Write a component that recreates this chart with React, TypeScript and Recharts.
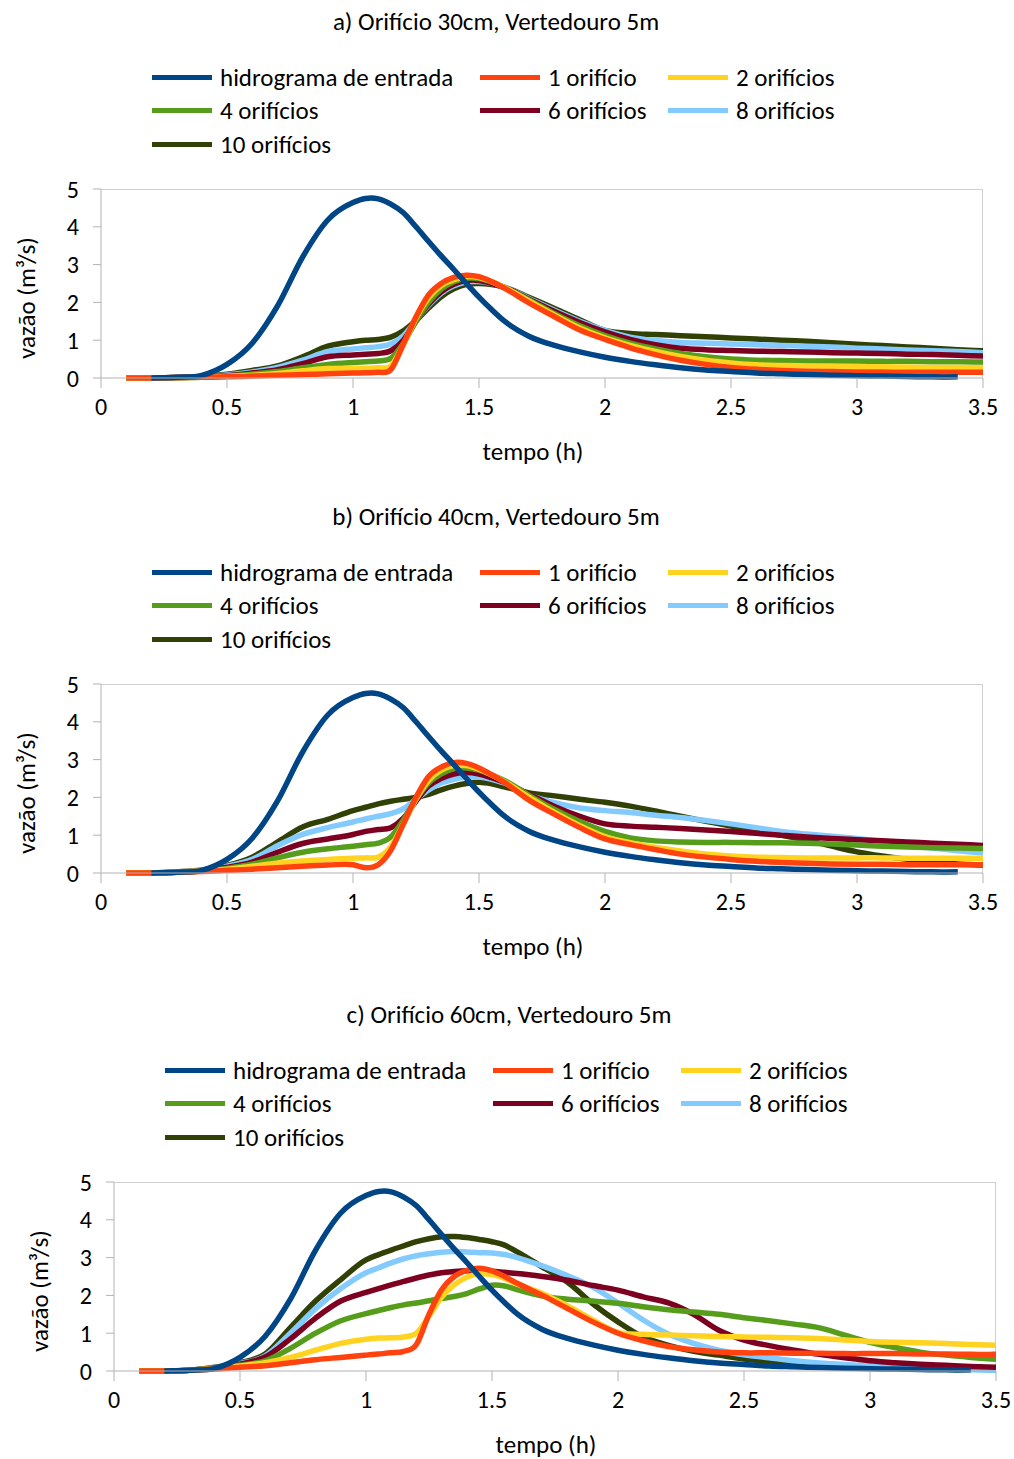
import React from 'react';
import { LineChart, Line, XAxis, YAxis } from 'recharts';

const FONT = 'Carlito, Lato, "Open Sans", sans-serif';

// time grid (h)
const times = [0.1, 0.2, 0.3, 0.4, 0.5, 0.6, 0.7, 0.8, 0.9, 1.0,
  1.05, 1.1, 1.15, 1.2, 1.25, 1.3, 1.35, 1.4, 1.45, 1.5, 1.55, 1.6,
  1.7, 1.8, 1.9, 2.0, 2.1, 2.2, 2.3, 2.4, 2.5, 2.6, 2.7, 2.8, 2.9, 3.0, 3.1, 3.2, 3.3, 3.4, 3.5];

// inflow hydrograph (same in all panels)
const inflow = [null, 0, 0.02, 0.07, 0.36, 0.92, 1.9, 3.2, 4.18, 4.64,
  4.75, 4.74, 4.6, 4.37, 4.0, 3.61, 3.23, 2.87, 2.5, 2.14, 1.81, 1.51,
  1.1, 0.86, 0.69, 0.55, 0.44, 0.35, 0.27, 0.21, 0.17, 0.13, 0.11, 0.09, 0.07, 0.06, 0.05, 0.04, 0.03, 0.03, null];

// a) orifice 30 cm
const a1 = [0, 0, 0.01, 0.02, 0.03, 0.05, 0.07, 0.09, 0.11, 0.13,
  0.14, 0.15, 0.22, 0.9, 1.62, 2.2, 2.5, 2.66, 2.72, 2.68, 2.55, 2.38,
  1.98, 1.62, 1.27, 1.02, 0.8, 0.62, 0.47, 0.36, 0.28, 0.23, 0.2, 0.18, 0.17, 0.16, 0.16, 0.15, 0.15, 0.15, 0.15];
const a2 = [0, 0, 0.01, 0.02, 0.04, 0.07, 0.12, 0.19, 0.25, 0.26,
  0.26, 0.27, 0.32, 0.88, 1.58, 2.12, 2.44, 2.6, 2.68, 2.66, 2.55, 2.4,
  2.03, 1.66, 1.32, 1.06, 0.86, 0.7, 0.57, 0.47, 0.4, 0.35, 0.33, 0.32, 0.31, 0.3, 0.3, 0.29, 0.28, 0.28, 0.27];
const a4 = [0, 0, 0.01, 0.02, 0.05, 0.1, 0.17, 0.27, 0.36, 0.41,
  0.43, 0.45, 0.52, 0.92, 1.5, 2.0, 2.35, 2.55, 2.64, 2.63, 2.54, 2.4,
  2.06, 1.7, 1.38, 1.12, 0.92, 0.77, 0.65, 0.56, 0.5, 0.47, 0.46, 0.45, 0.45, 0.45, 0.44, 0.44, 0.43, 0.43, 0.42];
const a6 = [0, 0, 0.01, 0.03, 0.06, 0.13, 0.22, 0.38, 0.56, 0.61,
  0.63, 0.65, 0.72, 1.0, 1.5, 1.95, 2.28, 2.48, 2.58, 2.58, 2.5, 2.4,
  2.08, 1.76, 1.47, 1.22, 1.02, 0.88, 0.79, 0.75, 0.73, 0.71, 0.7, 0.69, 0.67, 0.66, 0.65, 0.63, 0.62, 0.6, 0.58];
const a8 = [0, 0, 0.01, 0.03, 0.08, 0.16, 0.28, 0.47, 0.7, 0.77,
  0.8, 0.83, 0.9, 1.12, 1.52, 1.92, 2.24, 2.44, 2.54, 2.55, 2.5, 2.41,
  2.1, 1.79, 1.5, 1.26, 1.08, 0.99, 0.94, 0.92, 0.9, 0.88, 0.86, 0.84, 0.82, 0.79, 0.77, 0.74, 0.72, 0.7, 0.67];
const a10 = [0, 0, 0.01, 0.04, 0.1, 0.2, 0.32, 0.56, 0.84, 0.96,
  1.0, 1.02, 1.08, 1.25, 1.52, 1.85, 2.15, 2.36, 2.48, 2.5, 2.47, 2.4,
  2.13, 1.84, 1.54, 1.26, 1.18, 1.15, 1.12, 1.09, 1.06, 1.03, 1.0, 0.97, 0.93, 0.89, 0.86, 0.82, 0.79, 0.75, 0.72];

// b) orifice 40 cm
const b1 = [0, 0, 0.02, 0.04, 0.07, 0.1, 0.14, 0.18, 0.21, 0.22,
  0.14, 0.22, 0.6, 1.3, 2.0, 2.55, 2.8, 2.92, 2.9, 2.78, 2.6, 2.4,
  1.92, 1.55, 1.2, 0.9, 0.75, 0.62, 0.5, 0.42, 0.36, 0.31, 0.28, 0.26, 0.24, 0.23, 0.23, 0.22, 0.22, 0.22, 0.22];
const b2 = [0, 0, 0.02, 0.05, 0.1, 0.18, 0.26, 0.32, 0.36, 0.39,
  0.4, 0.42, 0.7, 1.3, 1.95, 2.45, 2.72, 2.84, 2.84, 2.75, 2.6, 2.42,
  2.0, 1.6, 1.25, 0.96, 0.8, 0.68, 0.58, 0.5, 0.45, 0.42, 0.41, 0.4, 0.4, 0.4, 0.4, 0.39, 0.39, 0.39, 0.39];
const b4 = [0, 0, 0.02, 0.05, 0.12, 0.23, 0.4, 0.55, 0.64, 0.71,
  0.75, 0.79, 0.95, 1.4, 1.95, 2.38, 2.62, 2.76, 2.78, 2.72, 2.6, 2.45,
  2.05, 1.68, 1.36, 1.1, 0.93, 0.85, 0.82, 0.81, 0.81, 0.8, 0.8, 0.79, 0.77, 0.74, 0.71, 0.69, 0.67, 0.66, 0.65];
const b6 = [0, 0, 0.02, 0.06, 0.15, 0.29, 0.55, 0.78, 0.9, 1.02,
  1.1, 1.15, 1.2, 1.45, 1.9, 2.3, 2.5, 2.62, 2.66, 2.62, 2.52, 2.4,
  2.08, 1.76, 1.5, 1.3, 1.24, 1.21, 1.18, 1.14, 1.1, 1.05, 1.0, 0.95, 0.91, 0.88, 0.85, 0.82, 0.79, 0.76, 0.73];
const b8 = [0, 0, 0.02, 0.07, 0.18, 0.36, 0.72, 1.02, 1.2, 1.35,
  1.43, 1.5, 1.57, 1.7, 1.95, 2.2, 2.38, 2.48, 2.54, 2.54, 2.48, 2.38,
  2.06, 1.86, 1.72, 1.65, 1.6, 1.53, 1.47, 1.39, 1.3, 1.2, 1.1, 1.03, 0.97, 0.91, 0.83, 0.74, 0.66, 0.59, 0.53];
const b10 = [0, 0, 0.03, 0.08, 0.2, 0.42, 0.82, 1.22, 1.42, 1.65,
  1.74, 1.83, 1.9, 1.95, 2.0, 2.08, 2.2, 2.3, 2.37, 2.4, 2.36, 2.28,
  2.12, 2.04, 1.95, 1.87, 1.77, 1.64, 1.5, 1.37, 1.24, 1.12, 1.0, 0.87, 0.71, 0.56, 0.45, 0.36, 0.29, 0.24, 0.21];

// c) orifice 60 cm
const c1 = [0, 0, 0.02, 0.05, 0.1, 0.14, 0.22, 0.3, 0.36, 0.42,
  0.45, 0.48, 0.52, 0.7, 1.5, 2.15, 2.5, 2.66, 2.72, 2.65, 2.5, 2.32,
  2.0, 1.65, 1.3, 1.0, 0.8, 0.65, 0.56, 0.5, 0.48, 0.48, 0.47, 0.47, 0.46, 0.46, 0.46, 0.45, 0.45, 0.44, 0.44];
const c2 = [0, 0, 0.02, 0.06, 0.13, 0.22, 0.36, 0.55, 0.73, 0.84,
  0.87, 0.88, 0.9, 1.0, 1.45, 1.95, 2.28, 2.48, 2.57, 2.55, 2.45, 2.3,
  2.05, 1.72, 1.35, 1.02, 0.97, 0.95, 0.93, 0.91, 0.9, 0.89, 0.88, 0.86, 0.82, 0.78, 0.76, 0.75, 0.73, 0.7, 0.68];
const c4 = [0, 0, 0.02, 0.07, 0.15, 0.27, 0.6, 1.0, 1.33, 1.52,
  1.6, 1.68, 1.75, 1.8, 1.86, 1.92, 1.97, 2.05, 2.17, 2.27, 2.25, 2.15,
  1.98, 1.9, 1.85, 1.79, 1.7, 1.62, 1.56, 1.5, 1.41, 1.33, 1.24, 1.14, 0.95, 0.76, 0.62, 0.5, 0.42, 0.36, 0.31];
const c6 = [0, 0, 0.02, 0.08, 0.18, 0.37, 0.85, 1.4, 1.85, 2.08,
  2.18, 2.28, 2.37, 2.46, 2.54, 2.6, 2.63, 2.65, 2.65, 2.64, 2.61, 2.58,
  2.5, 2.4, 2.26, 2.14, 1.96, 1.8, 1.5, 1.08, 0.82, 0.67, 0.55, 0.44, 0.35, 0.27, 0.22, 0.18, 0.15, 0.12, 0.1];
const c8 = [0, 0, 0.02, 0.09, 0.2, 0.4, 1.0, 1.65, 2.18, 2.6,
  2.73, 2.86, 2.97, 3.05, 3.1, 3.14, 3.16, 3.15, 3.13, 3.12, 3.08, 3.0,
  2.78, 2.52, 2.22, 1.8, 1.35, 0.98, 0.73, 0.55, 0.43, 0.35, 0.27, 0.21, 0.17, 0.14, 0.1, 0.07, 0.05, 0.03, 0.02];
const c10 = [0, 0, 0.02, 0.1, 0.22, 0.45, 1.15, 1.85, 2.42, 2.94,
  3.08, 3.2, 3.31, 3.42, 3.5, 3.55, 3.56, 3.53, 3.48, 3.42, 3.33, 3.15,
  2.75, 2.35, 1.78, 1.3, 0.9, 0.68, 0.52, 0.42, 0.32, 0.25, 0.2, 0.16, 0.13, 0.11, 0.09, 0.07, 0.06, 0.05, 0.05];

const seriesNames = ['hidrograma de entrada', '1 orifício', '2 orifícios', '4 orifícios', '6 orifícios', '8 orifícios', '10 orifícios'];
const seriesColors = ['#004586', '#ff420e', '#ffd320', '#579d1c', '#7e0021', '#83caff', '#314004'];
const xTicks = [0, 0.5, 1, 1.5, 2, 2.5, 3, 3.5];
const yTicks = [0, 1, 2, 3, 4, 5];
const titles = ['a) Orifício 30cm, Vertedouro 5m', 'b) Orifício 40cm, Vertedouro 5m', 'c) Orifício 60cm, Vertedouro 5m'];

const buildRows = (cols: (number | null)[][]) =>
  times.map((t, i) => {
    const r: any = { t };
    cols.forEach((c, k) => { r['s' + k] = c[i]; });
    return r;
  });

const panelData = [
  buildRows([inflow, a1, a2, a4, a6, a8, a10]),
  buildRows([inflow, b1, b2, b4, b6, b8, b10]),
  buildRows([inflow, c1, c2, c4, c6, c8, c10]),
];

// x-aware cubic Hermite spline (smooth, handles uneven spacing)
const smoothX = (context: any) => {
  let xs: number[] = [];
  let ys: number[] = [];
  return {
    areaStart() {},
    areaEnd() {},
    lineStart() { xs = []; ys = []; },
    lineEnd() {
      const n = xs.length;
      if (n === 0) return;
      context.moveTo(xs[0], ys[0]);
      if (n === 1) return;
      if (n === 2) { context.lineTo(xs[1], ys[1]); return; }
      const m: number[] = new Array(n);
      for (let i = 0; i < n; i++) {
        if (i === 0) m[i] = (ys[1] - ys[0]) / (xs[1] - xs[0]);
        else if (i === n - 1) m[i] = (ys[n - 1] - ys[n - 2]) / (xs[n - 1] - xs[n - 2]);
        else {
          const h0 = xs[i] - xs[i - 1];
          const h1 = xs[i + 1] - xs[i];
          const s0 = (ys[i] - ys[i - 1]) / h0;
          const s1 = (ys[i + 1] - ys[i]) / h1;
          m[i] = (s0 * h1 + s1 * h0) / (h0 + h1);
        }
      }
      for (let i = 0; i < n - 1; i++) {
        const h = xs[i + 1] - xs[i];
        context.bezierCurveTo(xs[i] + h / 3, ys[i] + (m[i] * h) / 3, xs[i + 1] - h / 3, ys[i + 1] - (m[i + 1] * h) / 3, xs[i + 1], ys[i + 1]);
      }
    },
    point(x: number, y: number) { xs.push(+x); ys.push(+y); },
  };
};

const AXIS = '#b3b3b3';
const FS = 25;
const TFS = 24;

const Panel = ({ ox, oy, title, data }: { ox: number; oy: number; title: string; data: any[] }) => {
  const plotLeft = 101 + ox;
  const plotTop = 189 + oy;
  const plotW = 882;
  const plotH = 189;
  const legCols = [152, 480, 668];
  const legRows = [77, 110, 144];
  const order = [6, 5, 4, 3, 2, 1, 0];
  return (
    <>
      <div style={{ position: 'absolute', left: 96 + ox, top: oy + 6, width: 800, textAlign: 'center', fontSize: FS, lineHeight: '32px', fontFamily: FONT }}>{title}</div>
      {seriesNames.map((n, i) => {
        const col = i === 0 ? 0 : (i - 1) % 3 === 0 ? 1 : (i - 1) % 3 === 1 ? 2 : 0;
        const row = Math.floor(i / 3);
        const x = legCols[col] + ox;
        const y = legRows[row] + oy;
        return (
          <div key={n} style={{ position: 'absolute', left: x, top: y - 16, height: 32, display: 'flex', alignItems: 'center', fontFamily: FONT, fontSize: FS, whiteSpace: 'nowrap' }}>
            <span style={{ display: 'inline-block', width: 60, height: 5, background: seriesColors[i], marginRight: 8 }} />
            <span>{n}</span>
          </div>
        );
      })}
      <div style={{ position: 'absolute', left: plotLeft, top: plotTop, width: plotW, height: plotH, boxSizing: 'border-box', borderTop: '1px solid #d0d0d0', borderRight: '1px solid #d0d0d0' }} />
      <div style={{ position: 'absolute', left: 0, top: oy, width: 1014 }}>
        <LineChart width={1014} height={480} data={data} margin={{ top: 189, right: 1014 - 983 - ox, left: 40 + ox, bottom: 72 }}>
          <XAxis dataKey="t" type="number" domain={[0, 3.5]} ticks={xTicks} height={30}
            axisLine={{ stroke: AXIS }} tickLine={{ stroke: AXIS }} tickSize={10} tickMargin={10}
            tick={{ fill: '#000', fontSize: TFS, fontFamily: FONT }} allowDataOverflow />
          <YAxis type="number" domain={[0, 5]} ticks={yTicks} width={61}
            axisLine={{ stroke: AXIS }} tickLine={{ stroke: AXIS }} tickSize={8} tickMargin={14}
            tick={{ fill: '#000', fontSize: TFS, fontFamily: FONT }} />
          {order.map((k) => (
            <Line key={k} type={smoothX as any} dataKey={'s' + k} stroke={seriesColors[k]} strokeWidth={5.5}
              dot={false} isAnimationActive={false} connectNulls={false} />
          ))}
        </LineChart>
      </div>
      <div style={{ position: 'absolute', left: 27 + ox - 100, top: oy + 298 - 16, width: 200, height: 32, lineHeight: '32px', textAlign: 'center', transform: 'rotate(-90deg)', fontFamily: FONT, fontSize: FS }}>vazão (m³/s)</div>
      <div style={{ position: 'absolute', left: 533 + ox - 100, top: oy + 452 - 16, width: 200, height: 32, lineHeight: '32px', textAlign: 'center', fontFamily: FONT, fontSize: FS }}>tempo (h)</div>
    </>
  );
};

export default function App() {
  return (
    <div style={{ position: 'absolute', left: 0, top: 0, width: 1014, height: 1459, background: '#fff', overflow: 'hidden' }}>
      <Panel ox={0} oy={0} title={titles[0]} data={panelData[0]} />
      <Panel ox={0} oy={495} title={titles[1]} data={panelData[1]} />
      <Panel ox={13} oy={993} title={titles[2]} data={panelData[2]} />
    </div>
  );
}
